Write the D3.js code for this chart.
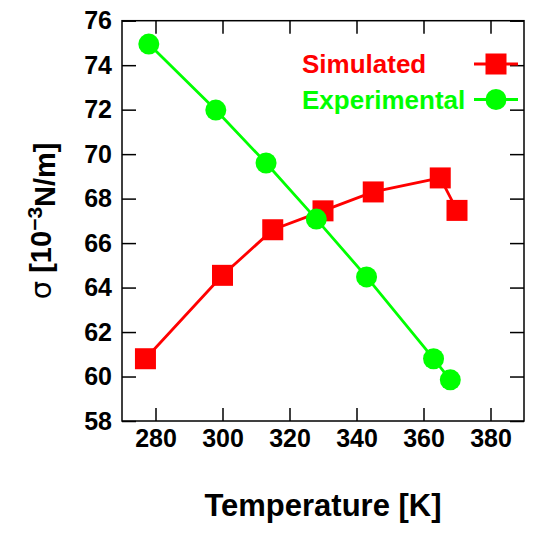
<!DOCTYPE html>
<html><head><meta charset="utf-8">
<script src="https://cdn.jsdelivr.net/npm/d3@7"></script>
<style>body{margin:0;background:#fff}svg{display:block}text{font-family:"Liberation Sans",Arial,Helvetica,sans-serif;font-weight:bold}</style>
</head><body>
<svg id="c" width="545" height="558"></svg>
<script>
const xTicks = [280, 300, 320, 340, 360, 380];
const yTicks = [58, 60, 62, 64, 66, 68, 70, 72, 74, 76];
const simT = [277, 300, 315, 330, 345, 365, 370];
const simV = [60.8, 64.55, 66.6, 67.45, 68.3, 68.93, 67.47];
const expT = [278, 298, 313, 328, 343, 363, 368];
const expV = [74.95, 71.98, 69.6, 67.08, 64.48, 60.8, 59.85];
const seriesNames = ["Simulated", "Experimental"];

const svg = d3.select("#c");
const L = 122, R = 524, T = 20.7, B = 421;
const x = d3.scaleLinear().domain([270, 390]).range([L, R]);
const y = d3.scaleLinear().domain([58, 76]).range([B, T]);
const tl = 13;

// axes with inward ticks
const gB = svg.append("g").attr("transform", `translate(0,${B})`)
  .call(d3.axisBottom(x).tickValues(xTicks).tickSize(-tl).tickPadding(8));
const gT = svg.append("g").attr("transform", `translate(0,${T})`)
  .call(d3.axisTop(x).tickValues(xTicks).tickSize(-tl).tickFormat(""));
const gL = svg.append("g").attr("transform", `translate(${L},0)`)
  .call(d3.axisLeft(y).tickValues(yTicks).tickSize(-14).tickPadding(10));
const gR = svg.append("g").attr("transform", `translate(${R},0)`)
  .call(d3.axisRight(y).tickValues(yTicks).tickSize(-14).tickFormat(""));
[gB, gT, gL, gR].forEach(g => {
  g.select(".domain").remove();
  g.selectAll(".tick line").attr("stroke", "#000").attr("stroke-width", 1.5);
  g.selectAll(".tick text").attr("fill", "#000").style("font-size", "25px");
});
gB.selectAll(".tick text").attr("dy", "0.71em");
svg.append("rect").attr("x", L).attr("y", T).attr("width", R - L).attr("height", B - T)
  .attr("fill", "none").attr("stroke", "#000").attr("stroke-width", 1.5);

const line = d3.line().x(d => x(d[0])).y(d => y(d[1]));
const sim = simT.map((t, i) => [t, simV[i]]);
const exp = expT.map((t, i) => [t, expV[i]]);
const red = "#ff0000", green = "#00ff00";
const sq = 21, cr = 10.5;

svg.append("path").datum(sim).attr("d", line).attr("fill", "none").attr("stroke", red).attr("stroke-width", 2.8);
svg.selectAll(".sq").data(sim).enter().append("rect")
  .attr("x", d => x(d[0]) - sq / 2).attr("y", d => y(d[1]) - sq / 2)
  .attr("width", sq).attr("height", sq).attr("fill", red);
svg.append("path").datum(exp).attr("d", line).attr("fill", "none").attr("stroke", green).attr("stroke-width", 2.8);
svg.selectAll(".ci").data(exp).enter().append("circle")
  .attr("cx", d => x(d[0])).attr("cy", d => y(d[1])).attr("r", cr).attr("fill", green);

// legend
const lg = [{n: seriesNames[0], c: red, y: 64, s: "sq"}, {n: seriesNames[1], c: green, y: 99.5, s: "ci"}];
lg.forEach(d => {
  svg.append("text").attr("x", 302).attr("y", d.y).attr("dy", "0.36em").attr("fill", d.c)
    .style("font-size", "26px").text(d.n);
  svg.append("line").attr("x1", 474).attr("x2", 518).attr("y1", d.y).attr("y2", d.y)
    .attr("stroke", d.c).attr("stroke-width", 2.8);
  if (d.s === "sq") svg.append("rect").attr("x", 496 - sq / 2).attr("y", d.y - sq / 2).attr("width", sq).attr("height", sq).attr("fill", d.c);
  else svg.append("circle").attr("cx", 496).attr("cy", d.y).attr("r", cr).attr("fill", d.c);
});

// axis titles
svg.append("text").attr("x", (L + R) / 2).attr("y", 516).attr("text-anchor", "middle")
  .style("font-size", "31px").attr("fill", "#000").text("Temperature [K]");
const yl = svg.append("text").attr("transform", `translate(51,${(T + B) / 2}) rotate(-90)`)
  .attr("text-anchor", "middle").style("font-size", "29px").attr("fill", "#000");
yl.append("tspan").style("font-weight", "normal").style("font-family", "'DejaVu Sans',sans-serif").text("σ");
yl.append("tspan").text(" [10");
yl.append("tspan").attr("dy", "-0.45em").style("font-size", "21px").text("−3");
yl.append("tspan").attr("dy", "0.45em").text("N/m]");
</script>
</body></html>
